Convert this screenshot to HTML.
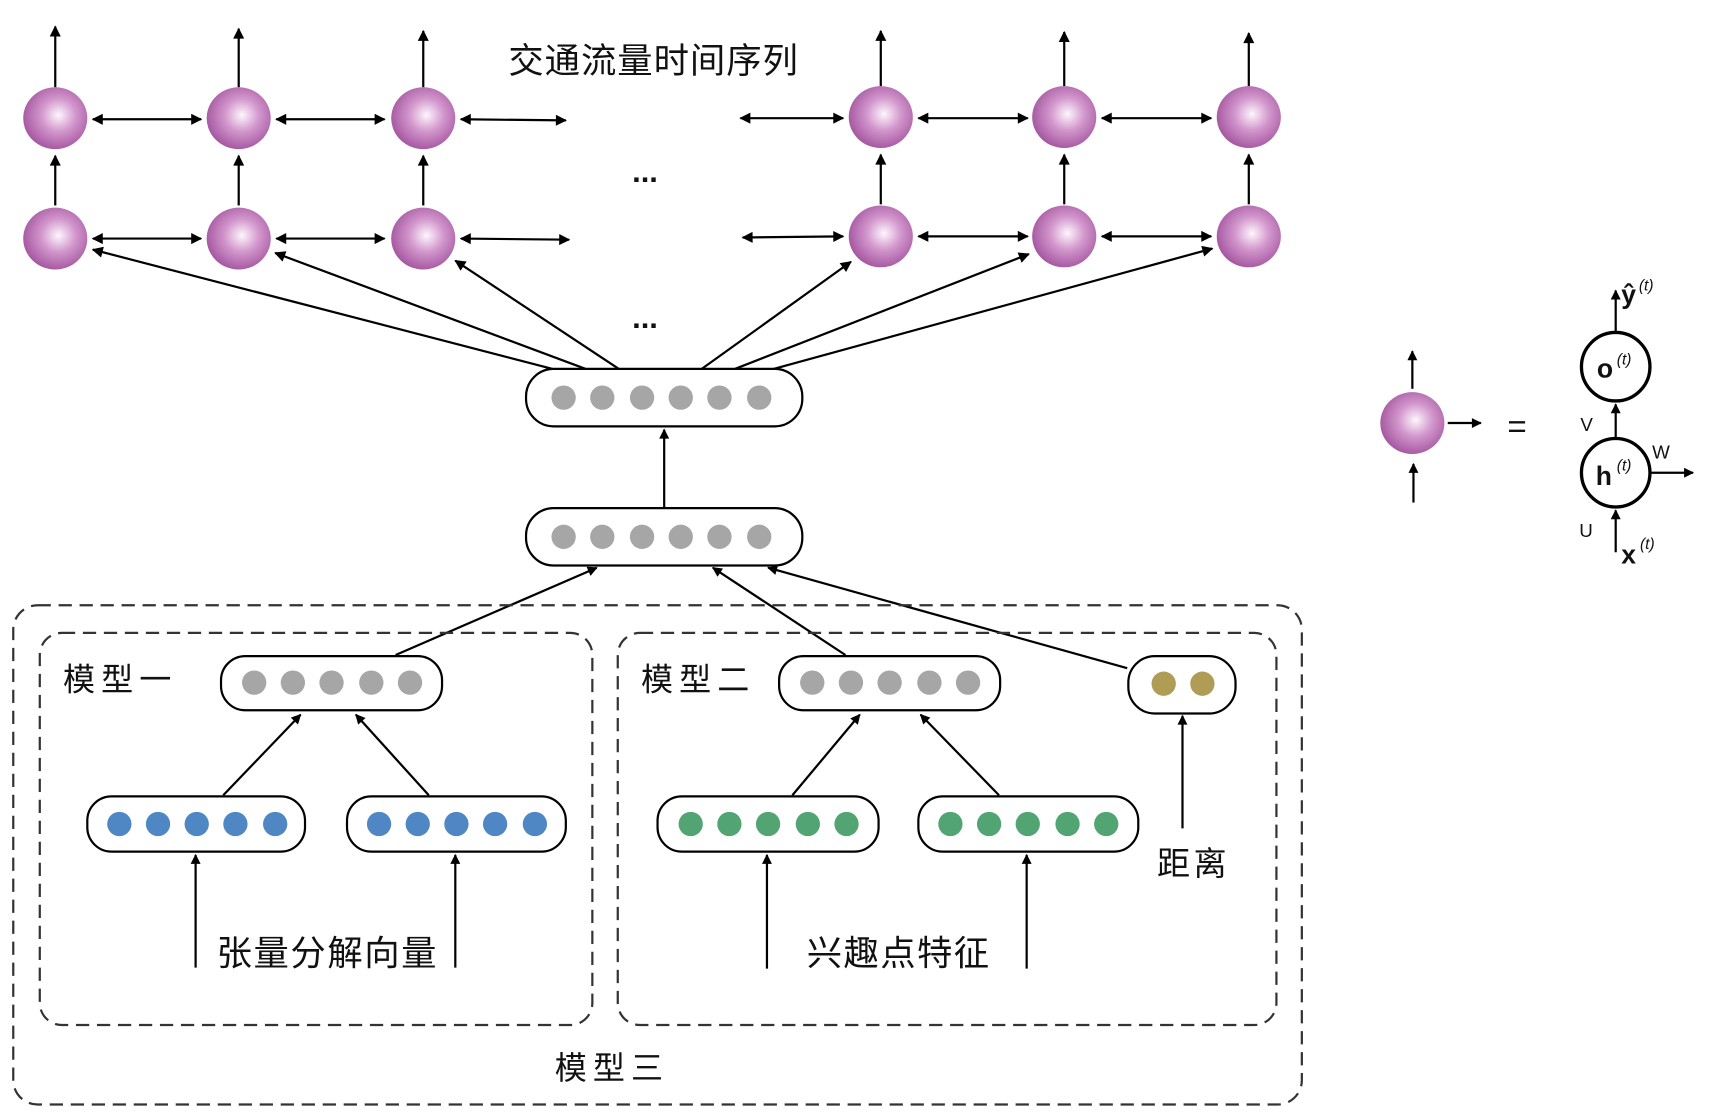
<!DOCTYPE html>
<html><head><meta charset="utf-8"><style>
html,body{margin:0;padding:0;background:#fff;}
svg{display:block}
text{font-family:"Liberation Sans","Noto Sans CJK SC",sans-serif;fill:#111}
</style></head><body>
<svg width="1724" height="1120" viewBox="0 0 1560 1014" preserveAspectRatio="none" xmlns="http://www.w3.org/2000/svg">
<defs>
<radialGradient id="sg" cx="0.55" cy="0.45" r="0.6">
<stop offset="0" stop-color="#fdf6fc"/>
<stop offset="0.45" stop-color="#d296cc"/>
<stop offset="1" stop-color="#a0509c"/>
</radialGradient>
<marker id="ah" viewBox="0 0 10 10" refX="9" refY="5" markerWidth="11" markerHeight="10" markerUnits="userSpaceOnUse" orient="auto-start-reverse">
<path d="M0,0 L10,5 L0,10 z" fill="#000"/>
</marker>
<marker id="ahs" viewBox="0 0 10 10" refX="9" refY="5" markerWidth="10" markerHeight="9" markerUnits="userSpaceOnUse" orient="auto-start-reverse">
<path d="M0,0 L10,5 L0,10 z" fill="#000"/>
</marker>
</defs>

<g stroke="#000" stroke-width="2" fill="none">
<line x1="50" y1="79" x2="50" y2="24" marker-end="url(#ah)"/>
<line x1="216" y1="79" x2="216" y2="26" marker-end="url(#ah)"/>
<line x1="383" y1="79" x2="383" y2="28" marker-end="url(#ah)"/>
<line x1="797" y1="78" x2="797" y2="28" marker-end="url(#ah)"/>
<line x1="963" y1="78" x2="963" y2="29" marker-end="url(#ah)"/>
<line x1="1130" y1="78" x2="1130" y2="30" marker-end="url(#ah)"/>
<line x1="50" y1="186" x2="50" y2="141" marker-end="url(#ah)"/>
<line x1="216" y1="186" x2="216" y2="141" marker-end="url(#ah)"/>
<line x1="383" y1="186" x2="383" y2="141" marker-end="url(#ah)"/>
<line x1="797" y1="185" x2="797" y2="140" marker-end="url(#ah)"/>
<line x1="963" y1="185" x2="963" y2="140" marker-end="url(#ah)"/>
<line x1="1130" y1="185" x2="1130" y2="140" marker-end="url(#ah)"/>
<line x1="84" y1="108" x2="182" y2="108" marker-start="url(#ah)" marker-end="url(#ah)"/>
<line x1="250" y1="108" x2="348" y2="108" marker-start="url(#ah)" marker-end="url(#ah)"/>
<line x1="417" y1="108" x2="512" y2="109" marker-start="url(#ah)" marker-end="url(#ah)"/>
<line x1="670" y1="107" x2="763" y2="107" marker-start="url(#ah)" marker-end="url(#ah)"/>
<line x1="831" y1="107" x2="930" y2="107" marker-start="url(#ah)" marker-end="url(#ah)"/>
<line x1="997" y1="107" x2="1096" y2="107" marker-start="url(#ah)" marker-end="url(#ah)"/>
<line x1="84" y1="216" x2="182" y2="216" marker-start="url(#ah)" marker-end="url(#ah)"/>
<line x1="250" y1="216" x2="348" y2="216" marker-start="url(#ah)" marker-end="url(#ah)"/>
<line x1="417" y1="216" x2="515" y2="217" marker-start="url(#ah)" marker-end="url(#ah)"/>
<line x1="672" y1="215" x2="763" y2="214" marker-start="url(#ah)" marker-end="url(#ah)"/>
<line x1="831" y1="214" x2="930" y2="214" marker-start="url(#ah)" marker-end="url(#ah)"/>
<line x1="997" y1="214" x2="1096" y2="214" marker-start="url(#ah)" marker-end="url(#ah)"/>
<line x1="500" y1="334" x2="84" y2="226" marker-end="url(#ah)"/>
<line x1="530" y1="334" x2="249" y2="229" marker-end="url(#ah)"/>
<line x1="560" y1="334" x2="412" y2="236" marker-end="url(#ah)"/>
<line x1="635" y1="334" x2="770" y2="237" marker-end="url(#ah)"/>
<line x1="665" y1="334" x2="931" y2="230" marker-end="url(#ah)"/>
<line x1="700" y1="334" x2="1097" y2="225" marker-end="url(#ah)"/>
<line x1="601" y1="460" x2="601" y2="389" marker-end="url(#ahs)"/>
<line x1="358" y1="593" x2="540" y2="514" marker-end="url(#ahs)"/>
<line x1="765" y1="593" x2="645" y2="514" marker-end="url(#ahs)"/>
<line x1="1020" y1="605" x2="695" y2="514" marker-end="url(#ahs)"/>
<line x1="202" y1="720" x2="272" y2="647" marker-end="url(#ahs)"/>
<line x1="388" y1="720" x2="322" y2="647" marker-end="url(#ahs)"/>
<line x1="177" y1="876" x2="177" y2="774" marker-end="url(#ahs)"/>
<line x1="412" y1="876" x2="412" y2="774" marker-end="url(#ahs)"/>
<line x1="717" y1="720" x2="778" y2="647" marker-end="url(#ahs)"/>
<line x1="904" y1="720" x2="833" y2="647" marker-end="url(#ahs)"/>
<line x1="694" y1="877" x2="694" y2="774" marker-end="url(#ahs)"/>
<line x1="929" y1="877" x2="929" y2="774" marker-end="url(#ahs)"/>
<line x1="1070" y1="750" x2="1070" y2="648" marker-end="url(#ahs)"/>
</g>

<g stroke="#333" stroke-width="2" fill="none" stroke-dasharray="12,7">
<rect x="12" y="548" width="1166" height="452" rx="22"/>
<rect x="36" y="573" width="500" height="355" rx="20"/>
<rect x="559" y="573" width="596" height="355" rx="20"/>
</g>

<g fill="url(#sg)">
<ellipse cx="50" cy="107" rx="29" ry="28"/><ellipse cx="216" cy="107" rx="29" ry="28"/><ellipse cx="383" cy="107" rx="29" ry="28"/>
<ellipse cx="797" cy="106" rx="29" ry="28"/><ellipse cx="963" cy="106" rx="29" ry="28"/><ellipse cx="1130" cy="106" rx="29" ry="28"/>
<ellipse cx="50" cy="216" rx="29" ry="28"/><ellipse cx="216" cy="216" rx="29" ry="28"/><ellipse cx="383" cy="216" rx="29" ry="28"/>
<ellipse cx="797" cy="214" rx="29" ry="28"/><ellipse cx="963" cy="214" rx="29" ry="28"/><ellipse cx="1130" cy="214" rx="29" ry="28"/>
<ellipse cx="1278" cy="383" rx="29" ry="28"/>
</g>

<text x="460" y="66" font-size="32" textLength="262">交通流量时间序列</text>
<text x="572" y="165" font-size="28" font-weight="bold">...</text>
<text x="572" y="297" font-size="28" font-weight="bold">...</text>

<g stroke="#000" stroke-width="2" fill="#fff">
<rect x="476" y="334" width="250" height="52" rx="25"/>
<rect x="476" y="460" width="250" height="52" rx="25"/>
<rect x="200" y="594" width="200" height="49" rx="22"/>
<rect x="79" y="721" width="197" height="50" rx="22"/>
<rect x="314" y="721" width="198" height="50" rx="22"/>
<rect x="705" y="594" width="200" height="49" rx="22"/>
<rect x="595" y="721" width="200" height="50" rx="22"/>
<rect x="831" y="721" width="199" height="50" rx="22"/>
<rect x="1021" y="594" width="97" height="52" rx="24"/>
</g>
<g fill="#a6a6a6">
<circle cx="510" cy="360" r="11"/><circle cx="545" cy="360" r="11"/><circle cx="581" cy="360" r="11"/><circle cx="616" cy="360" r="11"/><circle cx="651" cy="360" r="11"/><circle cx="687" cy="360" r="11"/>
<circle cx="510" cy="486" r="11"/><circle cx="545" cy="486" r="11"/><circle cx="581" cy="486" r="11"/><circle cx="616" cy="486" r="11"/><circle cx="651" cy="486" r="11"/><circle cx="687" cy="486" r="11"/>
<circle cx="230" cy="618" r="11"/><circle cx="265" cy="618" r="11"/><circle cx="300" cy="618" r="11"/><circle cx="336" cy="618" r="11"/><circle cx="371" cy="618" r="11"/>
<circle cx="735" cy="618" r="11"/><circle cx="770" cy="618" r="11"/><circle cx="805" cy="618" r="11"/><circle cx="841" cy="618" r="11"/><circle cx="876" cy="618" r="11"/>
</g>
<g fill="#4f87c4">
<circle cx="108" cy="746" r="11"/><circle cx="143" cy="746" r="11"/><circle cx="178" cy="746" r="11"/><circle cx="213" cy="746" r="11"/><circle cx="249" cy="746" r="11"/>
<circle cx="343" cy="746" r="11"/><circle cx="378" cy="746" r="11"/><circle cx="413" cy="746" r="11"/><circle cx="448" cy="746" r="11"/><circle cx="484" cy="746" r="11"/>
</g>
<g fill="#52a572">
<circle cx="625" cy="746" r="11"/><circle cx="660" cy="746" r="11"/><circle cx="695" cy="746" r="11"/><circle cx="731" cy="746" r="11"/><circle cx="766" cy="746" r="11"/>
<circle cx="860" cy="746" r="11"/><circle cx="895" cy="746" r="11"/><circle cx="930" cy="746" r="11"/><circle cx="966" cy="746" r="11"/><circle cx="1001" cy="746" r="11"/>
</g>
<g fill="#b09d55"><circle cx="1053" cy="619" r="11"/><circle cx="1088" cy="619" r="11"/></g>

<text x="57" y="625" font-size="29" textLength="98">模型一</text>
<text x="580" y="625" font-size="29" textLength="98">模型二</text>
<text x="502" y="977" font-size="29" textLength="98">模型三</text>
<text x="196" y="874" font-size="32" textLength="199">张量分解向量</text>
<text x="730" y="874" font-size="32" textLength="165">兴趣点特征</text>
<text x="1047" y="792" font-size="30" textLength="63">距离</text>

<g stroke="#000" stroke-width="2" fill="none">
<line x1="1278" y1="352" x2="1278" y2="318" marker-end="url(#ahs)"/>
<line x1="1279" y1="455" x2="1279" y2="420" marker-end="url(#ahs)"/>
<line x1="1310" y1="383" x2="1340" y2="383" marker-end="url(#ahs)"/>
<circle cx="1462" cy="332" r="31" stroke-width="3"/>
<circle cx="1462" cy="428" r="31" stroke-width="3"/>
<line x1="1462" y1="300" x2="1462" y2="263" marker-end="url(#ahs)"/>
<line x1="1462" y1="397" x2="1462" y2="366" marker-end="url(#ahs)"/>
<line x1="1493" y1="428" x2="1532" y2="428" marker-end="url(#ahs)"/>
<line x1="1462" y1="500" x2="1462" y2="462" marker-end="url(#ahs)"/>
</g>
<text x="1364" y="396" font-size="30">=</text>
<text x="1445" y="342" font-size="24" font-weight="bold" font-family="Liberation Serif">o</text>
<text x="1463" y="330" font-size="14" font-style="italic" font-family="Liberation Serif">(t)</text>
<text x="1444" y="439" font-size="24" font-weight="bold" font-family="Liberation Serif">h</text>
<text x="1463" y="426" font-size="14" font-style="italic" font-family="Liberation Serif">(t)</text>
<text x="1467" y="275" font-size="24" font-weight="bold" font-family="Liberation Serif">ŷ</text>
<text x="1483" y="263" font-size="14" font-style="italic" font-family="Liberation Serif">(t)</text>
<text x="1467" y="510" font-size="24" font-weight="bold" font-family="Liberation Serif">x</text>
<text x="1484" y="497" font-size="14" font-style="italic" font-family="Liberation Serif">(t)</text>
<text x="1430" y="390" font-size="17">V</text>
<text x="1495" y="415" font-size="17">W</text>
<text x="1429" y="486" font-size="17">U</text>
</svg>
</body></html>
